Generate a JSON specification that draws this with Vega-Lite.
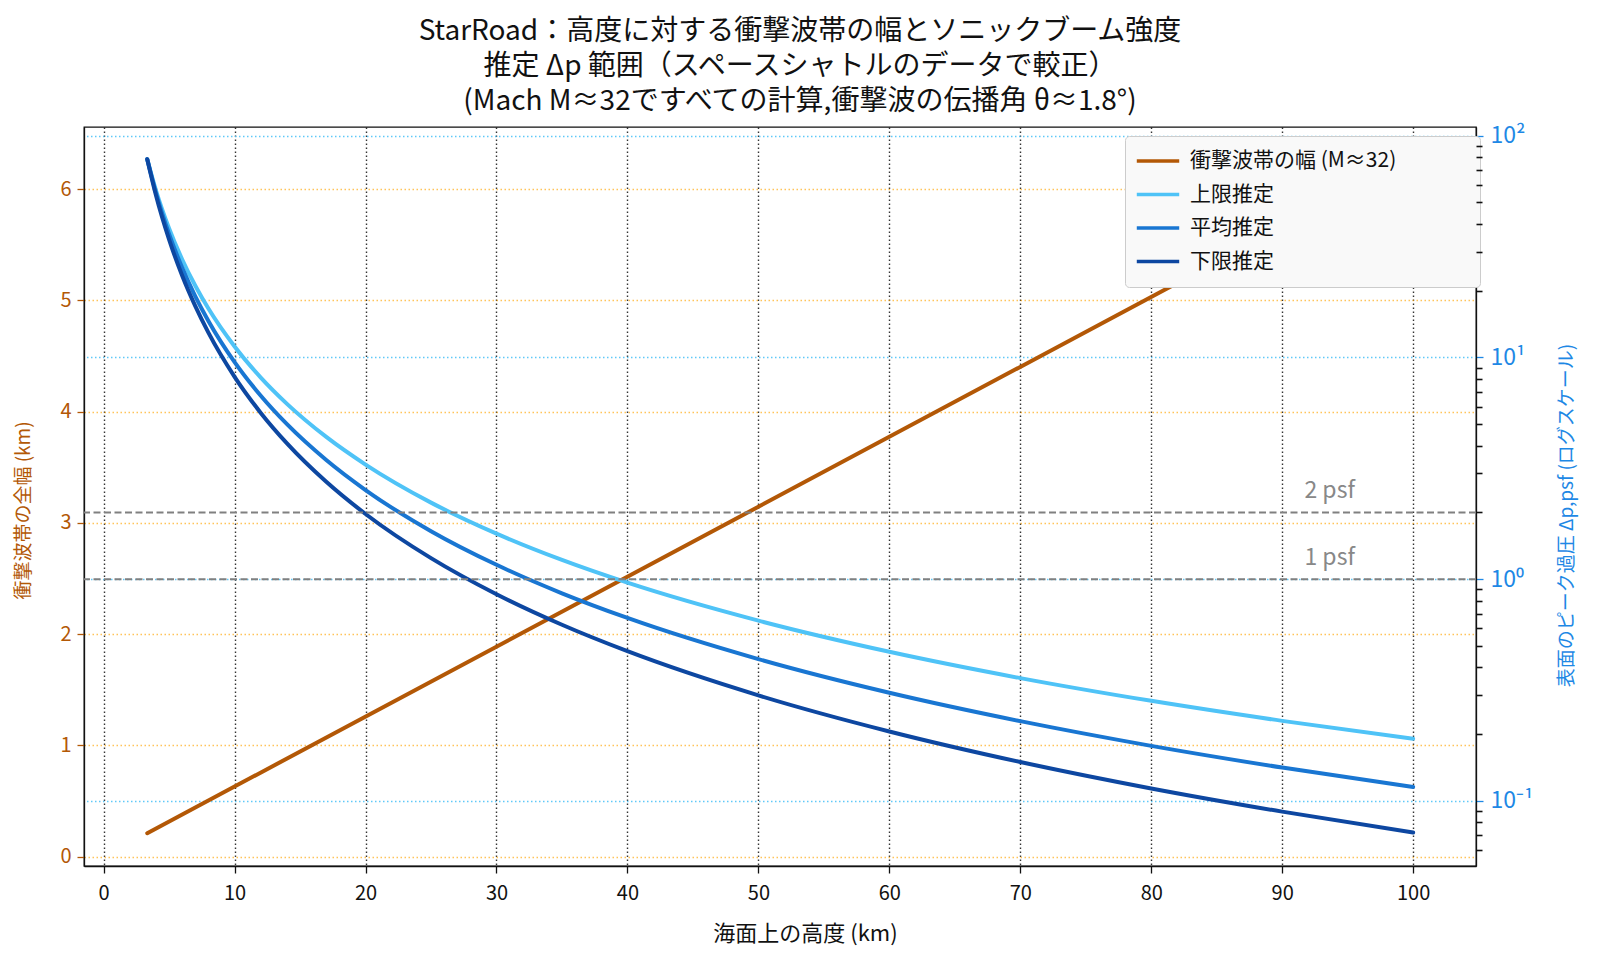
{
  "$schema": "https://vega.github.io/schema/vega-lite/v6.json",
  "width": 1392,
  "height": 739,
  "autosize": {"type": "none"},
  "padding": {"left": 84, "top": 127, "right": 124, "bottom": 94},
  "background": "white",
  "title": {
    "text": [
      "StarRoad：高度に対する衝撃波帯の幅とソニックブーム強度",
      "推定 Δp 範囲（スペースシャトルのデータで較正）",
      "(Mach M≈32ですべての計算,衝撃波の伝播角 θ≈1.8°)"
    ],
    "anchor": "middle",
    "frame": "group",
    "dx": 20,
    "offset": 9,
    "fontSize": 28,
    "lineHeight": 35,
    "fontWeight": "normal",
    "color": "#111111"
  },
  "datasets": {
    "width": [
      {"h": 3.33, "w": 0.21, "s": "衝撃波帯の幅 (M≈32)"},
      {"h": 100, "w": 6.29, "s": "衝撃波帯の幅 (M≈32)"}
    ],
    "dp": [
      {"h": 3.33, "dp": 78.3, "s": "上限推定"},
      {"h": 4, "dp": 56.6, "s": "上限推定"},
      {"h": 5, "dp": 38.15, "s": "上限推定"},
      {"h": 6, "dp": 27.64, "s": "上限推定"},
      {"h": 7, "dp": 21.04, "s": "上限推定"},
      {"h": 8, "dp": 16.61, "s": "上限推定"},
      {"h": 10, "dp": 11.2, "s": "上限推定"},
      {"h": 12, "dp": 8.11, "s": "上限推定"},
      {"h": 14, "dp": 6.175, "s": "上限推定"},
      {"h": 17, "dp": 4.38, "s": "上限推定"},
      {"h": 20, "dp": 3.287, "s": "上限推定"},
      {"h": 25, "dp": 2.214, "s": "上限推定"},
      {"h": 30, "dp": 1.604, "s": "上限推定"},
      {"h": 35, "dp": 1.221, "s": "上限推定"},
      {"h": 40, "dp": 0.964, "s": "上限推定"},
      {"h": 50, "dp": 0.65, "s": "上限推定"},
      {"h": 60, "dp": 0.4705, "s": "上限推定"},
      {"h": 70, "dp": 0.3581, "s": "上限推定"},
      {"h": 80, "dp": 0.2828, "s": "上限推定"},
      {"h": 90, "dp": 0.2297, "s": "上限推定"},
      {"h": 100, "dp": 0.1906, "s": "上限推定"},
      {"h": 3.33, "dp": 78.3, "s": "平均推定"},
      {"h": 4, "dp": 55.12, "s": "平均推定"},
      {"h": 5, "dp": 35.93, "s": "平均推定"},
      {"h": 6, "dp": 25.34, "s": "平均推定"},
      {"h": 7, "dp": 18.87, "s": "平均推定"},
      {"h": 8, "dp": 14.61, "s": "平均推定"},
      {"h": 10, "dp": 9.526, "s": "平均推定"},
      {"h": 12, "dp": 6.718, "s": "平均推定"},
      {"h": 14, "dp": 5.0, "s": "平均推定"},
      {"h": 17, "dp": 3.447, "s": "平均推定"},
      {"h": 20, "dp": 2.524, "s": "平均推定"},
      {"h": 25, "dp": 1.646, "s": "平均推定"},
      {"h": 30, "dp": 1.161, "s": "平均推定"},
      {"h": 35, "dp": 0.8637, "s": "平均推定"},
      {"h": 40, "dp": 0.6687, "s": "平均推定"},
      {"h": 50, "dp": 0.4361, "s": "平均推定"},
      {"h": 60, "dp": 0.3075, "s": "平均推定"},
      {"h": 70, "dp": 0.229, "s": "平均推定"},
      {"h": 80, "dp": 0.1772, "s": "平均推定"},
      {"h": 90, "dp": 0.1415, "s": "平均推定"},
      {"h": 100, "dp": 0.1156, "s": "平均推定"},
      {"h": 3.33, "dp": 78.3, "s": "下限推定"},
      {"h": 4, "dp": 53.72, "s": "下限推定"},
      {"h": 5, "dp": 33.97, "s": "下限推定"},
      {"h": 6, "dp": 23.35, "s": "下限推定"},
      {"h": 7, "dp": 17.02, "s": "下限推定"},
      {"h": 8, "dp": 12.93, "s": "下限推定"},
      {"h": 10, "dp": 8.176, "s": "下限推定"},
      {"h": 12, "dp": 5.62, "s": "下限推定"},
      {"h": 14, "dp": 4.096, "s": "下限推定"},
      {"h": 17, "dp": 2.749, "s": "下限推定"},
      {"h": 20, "dp": 1.968, "s": "下限推定"},
      {"h": 25, "dp": 1.244, "s": "下限推定"},
      {"h": 30, "dp": 0.8553, "s": "下限推定"},
      {"h": 35, "dp": 0.6229, "s": "下限推定"},
      {"h": 40, "dp": 0.4734, "s": "下限推定"},
      {"h": 50, "dp": 0.2993, "s": "下限推定"},
      {"h": 60, "dp": 0.2058, "s": "下限推定"},
      {"h": 70, "dp": 0.1499, "s": "下限推定"},
      {"h": 80, "dp": 0.1139, "s": "下限推定"},
      {"h": 90, "dp": 0.0895, "s": "下限推定"},
      {"h": 100, "dp": 0.072, "s": "下限推定"}
    ],
    "psf": [
      {"p": 1, "label": "1 psf"},
      {"p": 2, "label": "2 psf"}
    ]
  },
  "layer": [
    {
      "data": {"name": "width"},
      "mark": {"type": "line", "strokeWidth": 4, "strokeCap": "round"},
      "encoding": {
        "x": {
          "field": "h",
          "type": "quantitative",
          "scale": {"domain": [-1.5, 104.8], "nice": false, "zero": false},
          "axis": {
            "values": [0, 10, 20, 30, 40, 50, 60, 70, 80, 90, 100],
            "title": "海面上の高度 (km)",
            "titleFontSize": 22,
            "titleFontWeight": "normal",
            "titleColor": "#111111",
            "titlePadding": 20,
            "titleX": 721,
            "labelFontSize": 20,
            "labelColor": "#111111",
            "labelPadding": 10,
            "tickColor": "#111111",
            "tickSize": 7,
            "tickWidth": 1.3,
            "domainColor": "#111111",
            "domainWidth": 1.3,
            "grid": true,
            "gridColor": "#111111",
            "gridOpacity": 0.85,
            "gridDash": [1.5, 2.5],
            "gridWidth": 1.4
          }
        },
        "y": {
          "field": "w",
          "type": "quantitative",
          "scale": {"domain": [-0.085, 6.56], "nice": false, "zero": false},
          "axis": {
            "orient": "left",
            "values": [0, 1, 2, 3, 4, 5, 6],
            "title": "衝撃波帯の全幅 (km)",
            "titleFontSize": 19,
            "titleFontWeight": "normal",
            "titleColor": "#b35806",
            "titlePadding": 26,
            "titleY": 383,
            "labelFontSize": 20,
            "labelColor": "#b35806",
            "labelPadding": 6,
            "tickColor": "#b35806",
            "tickSize": 7,
            "tickWidth": 1.3,
            "domainColor": "#111111",
            "domainWidth": 1.3,
            "grid": true,
            "gridColor": "#ffa500",
            "gridOpacity": 0.65,
            "gridDash": [1.5, 2.5],
            "gridWidth": 1.3
          }
        },
        "color": {
          "field": "s",
          "type": "nominal",
          "scale": {
            "domain": ["衝撃波帯の幅 (M≈32)", "上限推定", "平均推定", "下限推定"],
            "range": ["#b35806", "#4fc3f7", "#1976d2", "#0d47a1"]
          },
          "legend": {
            "title": null,
            "orient": "none",
            "legendX": 1041,
            "legendY": 9,
            "symbolType": "stroke",
            "symbolSize": 1800,
            "symbolStrokeWidth": 3.5,
            "clipHeight": 30,
            "rowPadding": 3.5,
            "labelFontSize": 21,
            "labelLimit": 500,
            "labelColor": "#111111",
            "labelOffset": 9,
            "labelExpr": "datum.label + '\u3000\u3000\u3000\u2002\u200b'",
            "fillColor": "#f9f9f9",
            "strokeColor": "#cccccc",
            "cornerRadius": 4,
            "padding": 10
          }
        }
      }
    },
    {
      "layer": [
        {
          "data": {"name": "dp"},
          "mark": {"type": "line", "strokeWidth": 4, "strokeCap": "round", "interpolate": "monotone"},
          "encoding": {
            "x": {"field": "h", "type": "quantitative"},
            "y": {
              "field": "dp",
              "type": "quantitative",
              "scale": {"type": "log", "domain": [0.0509, 109.4], "nice": false},
              "axis": {
                "orient": "right",
                "values": [0.1, 1, 10, 100],
                "labelExpr": "datum.value == 100 ? '10²' : datum.value == 10 ? '10¹' : datum.value == 1 ? '10⁰' : '10⁻¹'",
                "title": "表面のピーク過圧 Δp,psf (ログスケール)",
                "titleAngle": 270,
                "titleFontSize": 19,
                "titleFontWeight": "normal",
                "titleColor": "#1e88e5",
                "titlePadding": 44,
                "titleY": 388,
                "labelFontSize": 23,
                "labelColor": "#1e88e5",
                "labelPadding": 7,
                "tickColor": "#1e88e5",
                "tickSize": 7,
                "tickWidth": 1.3,
                "domainColor": "#111111",
                "domainWidth": 1.3,
                "grid": true,
                "gridColor": "#4fc3f7",
                "gridOpacity": 0.9,
                "gridDash": [1.5, 2.5],
                "gridWidth": 1.3
              }
            },
            "color": {
              "field": "s",
              "type": "nominal",
              "scale": {
                "domain": ["衝撃波帯の幅 (M≈32)", "上限推定", "平均推定", "下限推定"],
                "range": ["#b35806", "#4fc3f7", "#1976d2", "#0d47a1"]
              }
            }
          }
        },
        {
          "data": {"name": "psf"},
          "mark": {"type": "rule", "color": "#808080", "strokeWidth": 2, "strokeDash": [7, 3.5]},
          "encoding": {
            "y": {
              "field": "p",
              "type": "quantitative",
              "axis": {
                "orient": "right",
                "values": [0.06, 0.07, 0.08, 0.09, 0.2, 0.3, 0.4, 0.5, 0.6, 0.7, 0.8, 0.9, 2, 3, 4, 5, 6, 7, 8, 9, 20, 30, 40, 50, 60, 70, 80, 90],
                "labels": false,
                "title": null,
                "ticks": true,
                "tickColor": "#111111",
                "tickSize": 6,
                "tickWidth": 1.6,
                "domain": false,
                "grid": false,
                "zindex": 2
              }
            }
          }
        },
        {
          "data": {"name": "psf"},
          "mark": {"type": "text", "align": "left", "baseline": "alphabetic", "dy": -14, "fontSize": 23, "color": "#888888"},
          "encoding": {
            "x": {"datum": 91.7, "type": "quantitative"},
            "y": {"field": "p", "type": "quantitative", "axis": null},
            "text": {"field": "label"}
          }
        }
      ],
      "resolve": {"axis": {"y": "independent"}}
    }
  ],
  "resolve": {"scale": {"y": "independent"}},
  "config": {
    "font": "Noto Sans CJK JP",
    "view": {"stroke": "#111111", "strokeWidth": 1.3}
  }
}
